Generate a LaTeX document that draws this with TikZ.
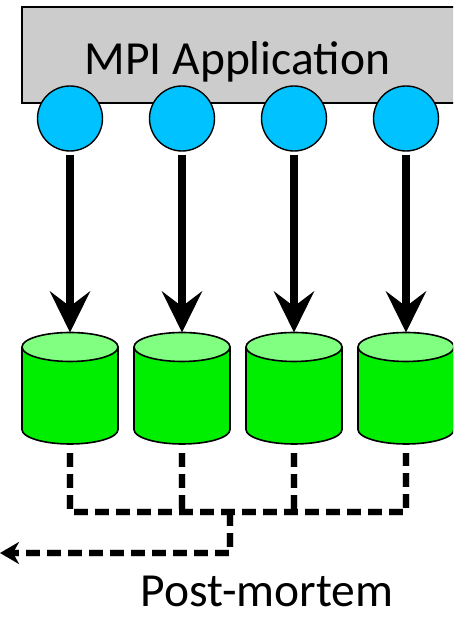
\documentclass[tikz,border=0pt]{standalone}
\usepackage{fontspec}
\setmainfont{Carlito}
\usetikzlibrary{arrows.meta}
\definecolor{boxgray}{RGB}{204,204,204}
\definecolor{cyanfill}{RGB}{0,194,255}
\definecolor{cylbody}{RGB}{0,238,0}
\definecolor{cyltop}{RGB}{128,255,128}
\tikzset{
  proc/.style={circle, draw=black, line width=1.4pt, fill=cyanfill, minimum size=65pt, inner sep=0pt},
  appbox/.style={draw=black, line width=1.4pt, fill=boxgray},
  bigarrow/.style={line width=8pt, -{Stealth[length=41pt, width=40pt, inset=15pt]}},
  dashline/.style={line width=6pt, dash pattern=on 14pt off 7pt},
  dashshadow/.style={line width=8pt, draw=black, opacity=0.18, dash pattern=on 14pt off 7pt},
  cylline/.style={draw=black, line width=1.6pt},
  lbl/.style={font=\fontsize{47.5}{52}\selectfont, anchor=base, inner sep=0pt}
}
\begin{document}
\begin{tikzpicture}[x=1pt,y=1pt]
\useasboundingbox (0,0) rectangle (453,617);
\clip (0,0) rectangle (453,617);
% application box
\draw[appbox] (22,514) rectangle (470,610);
\node[lbl] (app) at (237.5,542) {MPI Application};
% cylinders
\foreach \i/\c in {1/70,2/182,3/294,4/406}{
  \fill[cylbody] (\c-48,270) -- (\c-48,187.5) arc[start angle=180, end angle=360, x radius=48, y radius=14.5] -- (\c+48,270) -- cycle;
  \draw[cylline] (\c-48,270) -- (\c-48,187.5) arc[start angle=180, end angle=360, x radius=48, y radius=14.5] -- (\c+48,270);
  \draw[cylline, fill=cyltop] (\c,270) ellipse[x radius=48, y radius=14.5];
  \coordinate (t\i) at (\c,284.5);
  \coordinate (b\i) at (\c,164);
  \coordinate (j\i) at (\c,105);
  \node[proc] (c\i) at (\c,498.5) {};
  \draw[bigarrow, shorten <=3pt] (c\i.south) -- (t\i);
}
\coordinate (jm) at (230,105);
\coordinate (k) at (230,64);
\coordinate (out) at (0,64);
% shadows of dashed lines
\begin{scope}[shift={(1.5,-3)}]
  \draw[dashshadow] (b1) -- (j1) -- (j4) -- (b4);
  \draw[dashshadow] (b2) -- (j2);
  \draw[dashshadow] (b3) -- (j3);
  \draw[dashshadow] (jm) -- (k) -- (out);
\end{scope}
% dashed connectors
\draw[dashline] (b1) -- (j1) -- (j4) -- (b4);
\draw[dashline] (b2) -- (j2);
\draw[dashline] (b3) -- (j3);
\draw[dashline, -{Stealth[length=19pt, width=22pt, inset=6pt]}] (jm) -- (k) -- (out);
\node[lbl] (pm) at (267,10) {Post-mortem};
\end{tikzpicture}
\end{document}
